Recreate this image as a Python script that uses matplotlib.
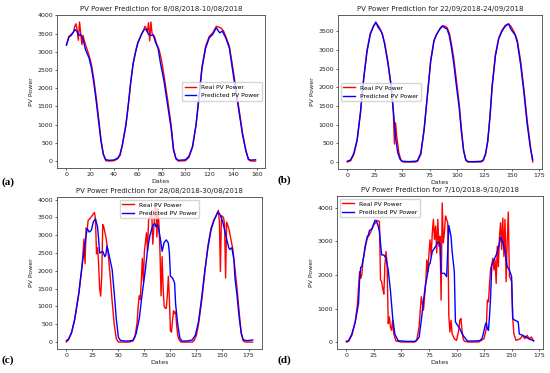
import matplotlib
matplotlib.use("Agg")
import matplotlib.pyplot as plt

# (a) 8/08/2018-10/08/2018
a_real_x = [0,2,4,6,7,8,9,10,11,12,13,14,15,17,19,21,23,25,27,29,31,33,36,40,43,45,47,50,52,54,
            56,58,60,63,65,66,67,68,69,70,71,72,74,76,78,80,82,85,88,90,92,94,100,103,106,109,111,114,117,120,
            123,126,128,130,132,134,137,139,142,145,148,151,153,155,159]
a_real_y = [3200,3420,3480,3550,3700,3770,3600,3320,3820,3500,3200,3450,3300,3100,2900,2650,2250,1750,1200,600,
            200,10,0,10,60,150,430,980,1530,2150,2680,3000,3260,3480,3600,3700,3650,3550,3800,3300,
            3820,3500,3420,3200,3050,2750,2350,1700,1000,350,60,0,10,100,380,1000,1650,2600,3150,3420,
            3520,3700,3680,3650,3580,3420,3150,2750,2100,1450,780,280,40,0,0]
a_pred_x = [0,2,4,6,7,9,10,12,14,16,19,21,23,25,27,29,31,33,36,40,43,45,47,50,52,54,56,58,60,63,
            65,67,69,71,73,75,77,79,82,85,88,90,92,94,100,103,106,109,111,114,117,120,123,126,128,129,131,134,137,139,
            142,145,148,151,153,155,159]
a_pred_y = [3180,3400,3450,3550,3610,3560,3450,3475,3340,3060,2830,2560,2150,1650,1100,550,180,40,20,30,
            80,175,450,1000,1550,2150,2650,2970,3240,3470,3600,3620,3480,3450,3460,3250,3100,2700,2200,1550,
            900,300,80,20,35,130,400,1000,1600,2550,3100,3380,3480,3660,3560,3520,3570,3380,3100,2650,
            2000,1380,730,260,55,25,35]

# (b) 22/09/2018-24/09/2018
b_real_x = [0,3,6,9,12,15,18,21,24,26,27,29,31,34,37,40,42,43,44,45,47,49,51,56,62,64,67,70,73,76,
            79,82,85,87,89,91,93,95,97,99,102,104,106,108,110,116,122,124,126,128,130,132,135,138,141,144,147,149,151,153,
            155,158,161,164,167,169]
b_real_y = [0,30,200,580,1300,2250,3000,3450,3650,3720,3700,3620,3500,3200,2700,2050,1300,480,1050,700,
            250,40,0,0,0,20,200,850,1780,2720,3260,3450,3580,3630,3640,3600,3450,3150,2780,2300,
            1550,900,320,40,0,0,0,40,200,550,1200,2050,2880,3320,3530,3660,3700,3640,3540,3420,
            3250,2700,1950,1100,400,0]
b_pred_x = [0,3,6,9,12,15,18,21,24,26,28,30,32,34,37,40,42,44,46,48,50,56,62,64,67,70,73,76,79,81,
            83,85,87,89,91,93,95,97,99,102,104,106,108,110,116,122,124,126,128,130,132,135,138,141,144,147,149,151,153,155,
            158,161,164,167,169]
b_pred_y = [20,55,235,600,1330,2240,2960,3420,3640,3750,3610,3540,3430,3160,2650,2020,1380,650,250,80,
            20,10,20,40,235,870,1780,2690,3240,3400,3500,3600,3650,3590,3560,3380,3050,2650,2150,1450,
            800,300,70,10,10,20,60,220,560,1200,2000,2840,3300,3500,3640,3700,3560,3480,3400,3200,
            2600,1850,1000,350,60]

# (c) 28/08/2018-30/08/2018
c_real_x = [0,2,5,8,12,15,17,18,19,20,21,23,25,27,28,29,30,31,32,33,34,35,36,38,40,42,44,46,48,50,
            56,60,64,66,67,68,69,70,71,72,73,74,75,77,78,79,81,82,83,85,86,87,88,89,90,91,92,93,94,95,
            96,97,98,99,100,101,102,103,104,105,106,107,108,110,116,121,123,125,127,130,133,136,139,142,144,146,147,148,149,151,
            152,153,154,156,158,160,162,164,166,168,170,172,179]
c_real_y = [0,60,250,620,1350,2100,2900,2200,3200,3150,3420,3480,3560,3640,3450,2480,2650,2200,1500,1290,
            1850,3300,3230,2950,2550,1900,1150,500,100,0,0,0,30,150,350,550,1000,1300,1200,1700,
            2350,1700,2550,3070,2550,3420,3560,3700,2750,3650,3880,2950,3750,3300,2500,1300,2400,1500,1000,950,
            950,1300,1850,1200,320,280,600,880,800,850,450,200,80,0,0,0,50,200,500,1150,
            1950,2700,3200,3450,3550,3700,3400,1980,3550,3500,3300,1800,3370,3200,2900,2600,2050,1500,850,250,
            30,0,0]
c_pred_x = [0,2,5,8,12,15,18,20,22,24,26,28,30,31,32,35,37,38,39,41,44,46,48,50,52,56,60,64,67,70,
            73,76,78,80,83,85,86,88,90,92,94,96,98,99,100,102,104,105,107,109,111,116,121,124,127,130,133,136,139,142,
            145,146,148,150,152,154,156,157,159,161,162,164,166,168,170,174,179]
c_pred_y = [40,80,270,640,1380,2120,2770,3190,3090,3140,3380,3460,3230,2900,2500,2550,2400,2450,2700,2450,
            2040,1390,650,140,46,30,30,50,230,650,1390,2040,2590,2960,3280,3330,3240,3290,2960,2550,
            2800,2870,2780,2500,1850,1800,1660,1060,500,120,30,30,60,200,580,1250,2000,2650,3150,3430,
            3620,3650,3560,3400,3150,2900,2650,2600,2650,2300,1800,1300,700,250,60,40,60]

# (d) 7/10/2018-9/10/2018
d_real_x = [0,2,5,8,10,12,13,14,15,17,19,21,23,25,28,30,31,32,33,34,35,36,37,38,39,40,41,42,43,45,
            50,62,64,66,68,70,72,73,74,75,76,77,78,79,80,81,82,83,84,85,86,87,88,89,90,91,92,93,94,95,
            96,98,100,102,103,104,105,106,107,110,120,125,127,128,129,130,131,132,133,134,135,136,137,138,139,140,141,142,143,144,
            145,146,147,148,149,150,151,152,154,158,160,162,164,165,166,168,170]
d_real_y = [0,20,200,600,1100,2100,1900,2000,2400,2800,3100,3200,3350,3500,3620,3600,1850,1800,1600,1430,
            2300,2700,2300,550,750,450,350,650,250,30,0,0,80,450,1350,950,1750,2450,2100,2650,
            3050,2550,3260,3660,3060,3460,2660,3660,2860,3160,1250,4150,2960,3260,3760,3660,3560,800,300,650,
            250,100,50,350,650,700,350,100,30,0,0,100,400,1250,1200,1750,2200,2300,2500,2150,
            2450,1750,2860,2250,3160,3560,2760,3700,2550,3660,1800,3000,3880,1950,1900,1800,750,250,50,100,
            200,100,200,150,100,150,30]
d_pred_x = [0,2,5,8,11,12,13,14,16,17,19,20,21,23,26,27,29,30,32,34,36,38,40,42,44,47,55,63,66,68,
            70,72,73,75,76,78,81,83,85,86,89,91,93,95,96,98,99,101,103,105,107,110,115,121,123,124,126,127,128,129,
            130,131,132,134,136,138,140,142,144,146,148,150,151,153,155,156,157,160,163,166,170]
d_pred_y = [20,40,240,590,1140,1850,2230,2250,2600,2850,3150,3200,3330,3370,3630,3630,3450,3300,2600,2600,
            2500,2150,1540,740,240,40,20,20,140,640,1240,1750,1900,2300,2350,2700,2850,2980,2950,2050,
            2050,1950,3480,3150,2700,2100,600,500,400,250,150,30,30,40,100,200,500,580,400,350,
            800,1400,2300,2450,2600,2800,3120,2980,2700,2250,2150,1950,700,650,620,600,240,200,150,90,
            40]

panels = [
    ("PV Power Prediction for 8/08/2018-10/08/2018", a_real_x, a_real_y, a_pred_x, a_pred_y,
     "center right", [57, 15, 265, 168], "(a)", (2, 182)),
    ("PV Power Prediction for 22/09/2018-24/09/2018", b_real_x, b_real_y, b_pred_x, b_pred_y,
     "center left", [338, 15, 542, 169], "(b)", (277, 180)),
    ("PV Power Prediction for 28/08/2018-30/08/2018", c_real_x, c_real_y, c_pred_x, c_pred_y,
     "upper center", [57, 197, 262, 349], "(c)", (2, 360)),
    ("PV Power Prediction for 7/10/2018-9/10/2018", d_real_x, d_real_y, d_pred_x, d_pred_y,
     "upper left", [337, 196, 543, 349], "(d)", (277, 360)),
]

W, H = 550, 373
fig = plt.figure(figsize=(5.5, 3.73), dpi=100)
txt = "#222222"

for title, rx, ry, px, py, loc, box, tag, tpos in panels:
    x0, y0, x1, y1 = box
    ax = fig.add_axes([x0 / W, 1 - y1 / H, (x1 - x0) / W, (y1 - y0) / H])
    ax.plot(rx, ry, color="red", lw=1.0, label="Real PV Power")
    ax.plot(px, py, color="blue", lw=1.0, label="Predicted PV Power")
    ax.set_title(title, fontsize=5, pad=3, color=txt)
    ax.set_xlabel("Dates", fontsize=4.5, labelpad=1, color=txt)
    ax.set_ylabel("PV Power", fontsize=4.5, labelpad=2, color=txt)
    ax.tick_params(labelsize=4.5, length=1.5, width=0.5, pad=1.5, colors=txt)
    for s in ax.spines.values():
        s.set_linewidth(0.6)
        s.set_color("#444444")
    ax.legend(loc=loc, fontsize=4.3, framealpha=0.8, edgecolor="#cccccc")
    fig.text(tpos[0] / W, 1 - tpos[1] / H, tag, fontsize=8, fontweight="bold",
             family="Liberation Serif", va="center", ha="left")

fig.savefig("out.png", dpi=100)
